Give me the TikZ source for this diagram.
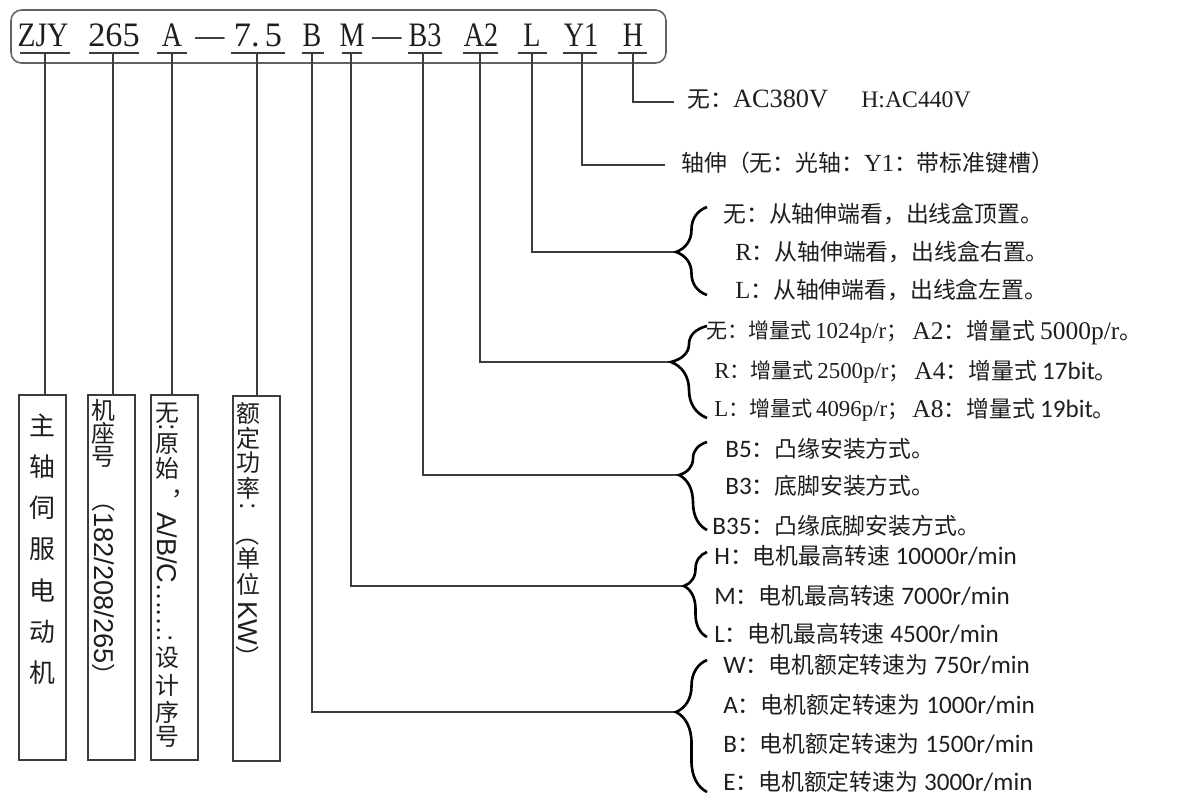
\documentclass[tikz,border=0pt]{standalone}
\usepackage{fontspec}
\setmainfont[Scale=1.1]{Carlito}
\newfontfamily\cjkf{Noto Sans CJK SC}
\newfontfamily\serf{Liberation Serif}
\newfontfamily\sanf{Liberation Sans}
\newcommand\C[1]{{\cjkf #1}}
\newcommand\Sr[1]{{\serf\fontsize{14}{15}\selectfont #1}}
\newcommand\Sa[1]{{\serf\fontsize{13}{14}\selectfont #1}}
\newcommand\Sb[1]{{\serf\fontsize{14.5}{16}\selectfont #1}}
\newcommand\Ls[1]{{\sanf\fontsize{15.5}{16}\selectfont #1}}
\usetikzlibrary{decorations.pathreplacing}
\definecolor{ln}{HTML}{3C3C3C}
\definecolor{tx}{HTML}{1E1E1E}
\tikzset{
  conn/.style={draw=ln, line width=1.1pt},
  uline/.style={draw=ln, line width=0.9pt},
  hdr/.style={font=\serf\fontsize{19.5}{20}\selectfont, text=tx, inner sep=0pt, anchor=base},
  desc/.style={font=\fontsize{13}{15}\selectfont, text=tx, inner sep=0pt, anchor=base west},
  descs/.style={desc, font=\fontsize{12}{14}\selectfont},
  vbox/.style={draw=ln, line width=1pt, minimum width=0.95cm, minimum height=7.3cm, anchor=north west, inner sep=0pt},
  vch/.style={font=\cjkf\fontsize{13.6}{14}\selectfont, text=tx, inner sep=0pt},
  vrot/.style={font=\cjkf\fontsize{13.6}{14}\selectfont, rotate=-90, anchor=west, inner sep=0pt, text=tx},
  brc/.style={decorate, draw=black, line width=1.5pt},
}
\begin{document}
\begin{tikzpicture}[x=0.02cm,y=-0.02cm]
\useasboundingbox (0,0) rectangle (1191,796);

% header frame
\draw[draw=ln!80, line width=0.9pt, rounded corners=6pt] (11,10) rectangle (666,63);

% header tokens
\node[hdr, xscale=0.86] (tZJY) at (43,46) {ZJY};
\node[hdr] (t265) at (114,46) {265};
\node[hdr, xscale=0.82] (tA) at (172,46) {A};
\node[hdr, xscale=0.85] (tD1) at (210,46) {—};
\node[hdr] (t75) at (258,46) {7.\hspace{3pt}5};
\node[hdr, xscale=0.82] (tB) at (312,46) {B};
\node[hdr, xscale=0.82] (tM) at (352,46) {M};
\node[hdr, xscale=0.85] (tD2) at (387,46) {—};
\node[hdr, xscale=0.82] (tB3) at (425,46) {B3};
\node[hdr, xscale=0.82] (tA2) at (481,46) {A2};
\node[hdr, xscale=0.82] (tL) at (532,46) {L};
\node[hdr, xscale=0.82] (tY1) at (581,46) {Y1};
\node[hdr, xscale=0.82] (tH) at (633,46) {H};

% underlines
\draw[uline] (20,53) -- (70,53);
\draw[uline] (89,53) -- (139,53);
\draw[uline] (157,53) -- (187,53);
\draw[uline] (231,53) -- (285,53);
\draw[uline] (302,53) -- (324,53);
\draw[uline] (342,53) -- (362,53);
\draw[uline] (408,53) -- (442,53);
\draw[uline] (463,53) -- (498,53);
\draw[uline] (518,53) -- (547,53);
\draw[uline] (563,53) -- (597,53);
\draw[uline] (618,53) -- (647,53);

\coordinate (uZJY) at (45,53);
\coordinate (u265) at (113,53);
\coordinate (uA) at (172,53);
\coordinate (u75) at (257,53);
\coordinate (uB) at (312,53);
\coordinate (uM) at (351,53);
\coordinate (uB3) at (423,53);
\coordinate (uA2) at (480,53);
\coordinate (uL) at (532,53);
\coordinate (uY1) at (582,53);
\coordinate (uH) at (633,53);

% left boxes
\node[vbox] (box1) at (18,394) {};
\node[vbox] (box2) at (87,394) {};
\node[vbox] (box3) at (150,394) {};
\node[vbox] (box4) at (232,395) {};

\draw[conn] (uZJY) -- (uZJY |- box1.north);
\draw[conn] (u265) -- (u265 |- box2.north);
\draw[conn] (uA) -- (uA |- box3.north);
\draw[conn] (u75) -- (u75 |- box4.north);

% box 1 text
\foreach \c [count=\i] in {主,轴,伺,服,电,动,机}
  \node[vch, font=\cjkf\fontsize{14.7}{15}\selectfont] (m\i) at (42,{425+41.3*(\i-1)}) {\c};

% box 2 text
\node[vch] (b2a) at (103,410) {机};
\node[vch] (b2b) at (103,433.5) {座};
\node[vch] (b2c) at (103,457) {号};
\node[vrot] (b2r) at (104,488) {（\Ls{182/208/265}）};

% box 3 text
\node[vch] (b3a) at (167,413) {无};
\node[vrot] (b3k) at (167,423) {\Ls{:}};
\node[vch] (b3b) at (167,444) {原};
\node[vch] (b3c) at (167,468) {始};
\node[vch] (b3d) at (183,494) {，};
\node[vrot] (b3r) at (167,512) {\Ls{A/B/C}……\Ls{:}};
\node[vch] (b3e) at (167,658) {设};
\node[vch] (b3f) at (167,685) {计};
\node[vch] (b3g) at (167,712) {序};
\node[vch] (b3h) at (167,737) {号};

% box 4 text
\node[vch] (b4a) at (248,413) {额};
\node[vch] (b4b) at (248,438) {定};
\node[vch] (b4c) at (248,463) {功};
\node[vch] (b4d) at (248,488) {率};
\node[vrot] (b4k) at (248,502) {\Ls{:}};
\node[vrot] (b4p) at (248,522) {（};
\node[vch] (b4e) at (248,558) {单};
\node[vch] (b4f) at (248,584) {位};
\node[vrot] (b4r) at (248,601) {\Ls{KW}）};

% H group
\coordinate (hEnd) at (674,102);
\draw[conn] (uH) |- (hEnd);
\node[desc] (h1) at (687,107) {\C{无：}{\serf\fontsize{15}{16}\selectfont AC380V}};
\node[desc] (h2) at (861,107) {{\serf\fontsize{13.5}{15}\selectfont H:AC440V}};

% Y1 group
\coordinate (yEnd) at (665,165);
\draw[conn] (uY1) |- (yEnd);
\node[desc] (y1d) at (681,171) {\C{轴伸（无：光轴：}\Sr{Y1}\C{：带标准键槽）}};

% L group
\coordinate (tipL) at (676,252);
\draw[conn] (uL) |- (tipL);
\draw[brc, decoration={brace, amplitude=0.62cm, aspect=0.489}] (707,295) -- (707,207);
\node[desc] (l1) at (723,222) {\C{无：从轴伸端看，出线盒顶置。}};
\node[desc] (l2) at (735,260) {\Sr{R}\C{：从轴伸端看，出线盒右置。}};
\node[desc] (l3) at (735,298) {\Sr{L}\C{：从轴伸端看，出线盒左置。}};

% A2 group
\coordinate (tipA2) at (671,362);
\draw[conn] (uA2) |- (tipA2);
\draw[brc, decoration={brace, amplitude=0.72cm, aspect=0.609}] (707,418) -- (707,326);
\node[descs] (a1) at (706,338) {\C{无：增量式}\hspace{2pt}\Sa{1024p/r}\C{；}};
\node[desc] (a1b) at (912,339) {\Sb{A2}\C{：增量式}\hspace{3pt}\Sb{5000p/r}\C{。}};
\node[descs] (a2) at (714,378) {\Sa{R}\C{：增量式}\hspace{2pt}\Sa{2500p/r}\C{；}};
\node[desc] (a2b) at (914,379) {\Sb{A4}\C{：增量式}\hspace{3pt}17bit\C{。}};
\node[descs] (a3) at (714,416) {\Sa{L}\C{：增量式}\hspace{2pt}\Sa{4096p/r}\C{；}};
\node[desc] (a3b) at (912,417) {\Sb{A8}\C{：增量式}\hspace{3pt}19bit\C{。}};

% B3 group
\coordinate (tipB3) at (679,475);
\draw[conn] (uB3) |- (tipB3);
\draw[brc, decoration={brace, amplitude=0.56cm, aspect=0.625}] (707,530) -- (707,442);
\node[desc] (b5t) at (725,457) {B5\C{：凸缘安装方式。}};
\node[desc] (b3t) at (725,494) {B3\C{：底脚安装方式。}};
\node[desc] (b35t) at (712,534) {B35\C{：凸缘底脚安装方式。}};

% M group
\coordinate (tipM) at (684,586);
\draw[conn] (uM) |- (tipM);
\draw[brc, decoration={brace, amplitude=0.46cm, aspect=0.6}] (707,637) -- (707,552);
\node[desc] (mh) at (714,564) {H\C{：电机最高转速} 10000r/min};
\node[desc] (mm) at (714,604) {M\C{：电机最高转速} 7000r/min};
\node[desc] (ml) at (714,642) {L\C{：电机最高转速} 4500r/min};

% B group
\coordinate (tipB) at (676,712);
\draw[conn] (uB) |- (tipB);
\draw[brc, decoration={brace, amplitude=0.62cm, aspect=0.606}] (707,792) -- (707,660);
\node[desc] (bw) at (723,673) {W\C{：电机额定转速为} 750r/min};
\node[desc] (ba) at (723,713) {A\C{：电机额定转速为} 1000r/min};
\node[desc] (bb) at (723,752) {B\C{：电机额定转速为} 1500r/min};
\node[desc] (be) at (723,790) {E\C{：电机额定转速为} 3000r/min};
\end{tikzpicture}
\end{document}
